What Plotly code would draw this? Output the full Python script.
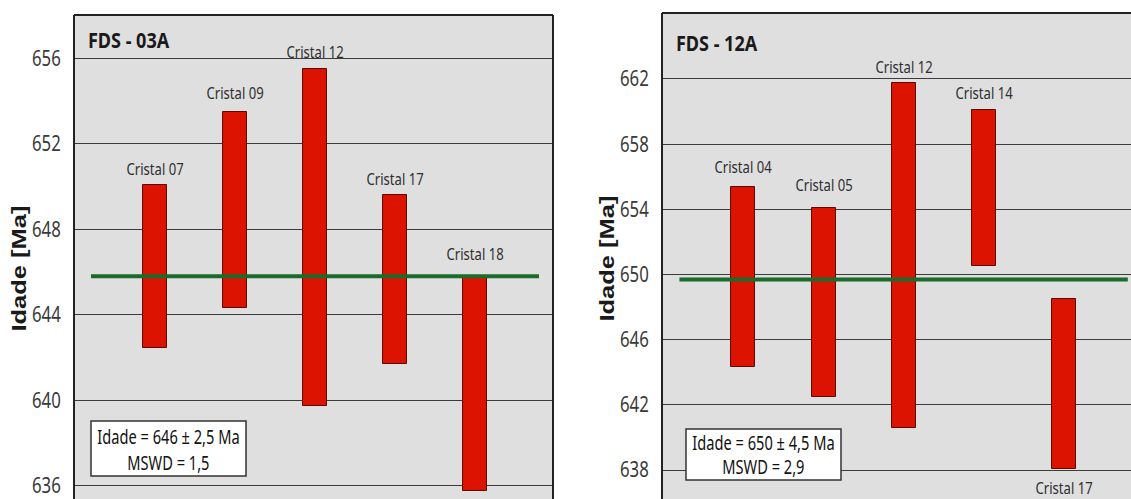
import plotly.graph_objects as go

# ---------------- data ----------------
left_title = "FDS - 03A"
left_labels = ["Cristal 07", "Cristal 09", "Cristal 12", "Cristal 17", "Cristal 18"]
left_top = [650.05, 653.5, 655.5, 649.6, 645.8]
left_bottom = [642.45, 644.3, 639.75, 641.7, 635.75]
left_mean = 645.8
left_ticks = [636, 640, 644, 648, 652, 656]
left_box = ["Idade = 646 ± 2,5 Ma", "MSWD = 1,5"]

right_title = "FDS - 12A"
right_labels = ["Cristal 04", "Cristal 05", "Cristal 12", "Cristal 14", "Cristal 17"]
right_top = [655.4, 654.1, 661.75, 660.1, 648.5]
right_bottom = [644.35, 642.5, 640.6, 650.5, 638.05]
right_mean = 649.7
right_ticks = [638, 642, 646, 650, 654, 658, 662]
right_box = ["Idade = 650 ± 4,5 Ma", "MSWD = 2,9"]

y_title = "Idade [Ma]"

# ---------------- style ----------------
W, H = 1131, 499
NARROW = "Noto Sans"
BOLD = "Liberation Sans, Arial, sans-serif"
RED = "#dc1300"
EDGE = "#5a0a00"
GREEN = "#1b6b2a"
BG = "#dfdfdf"
GRID = "#3c3c3c"
TXT = "#2e2e2e"

def px(x):
    return x / W

def py(y):
    return 1 - y / H

fig = go.Figure()

panels = [
    dict(ax="x", ay="y", top=left_top, bot=left_bottom, mean=left_mean,
         labels=left_labels, offs=[17, 19, 17, 17, 23]),
    dict(ax="x2", ay="y2", top=right_top, bot=right_bottom, mean=right_mean,
         labels=right_labels, offs=[20, 23, 17, 17, -18]),
]

annotations = []
for p in panels:
    xs = list(range(1, len(p["top"]) + 1))
    fig.add_trace(go.Bar(
        x=xs, y=[t - b for t, b in zip(p["top"], p["bot"])], base=p["bot"],
        width=0.3, marker=dict(color=RED, line=dict(color=EDGE, width=1)),
        xaxis=p["ax"], yaxis=p["ay"], showlegend=False, hoverinfo="skip"))
    fig.add_trace(go.Scatter(
        x=[0.2, 5.8], y=[p["mean"], p["mean"]], mode="lines",
        line=dict(color=GREEN, width=4), xaxis=p["ax"], yaxis=p["ay"],
        showlegend=False, hoverinfo="skip"))
    for i, (lab, off) in enumerate(zip(p["labels"], p["offs"])):
        yv = p["top"][i] if off > 0 else p["bot"][i]
        annotations.append(dict(
            x=xs[i], y=yv, xref=p["ax"], yref=p["ay"], text=lab,
            showarrow=False, yanchor="middle", yshift=off,
            font=dict(family=NARROW, size=17, color=TXT)))

# panel titles
annotations.append(dict(x=px(129), y=py(39), xref="paper", yref="paper", text="<b>" + left_title + "</b>",
                        showarrow=False, xanchor="center", yanchor="middle",
                        font=dict(family=NARROW, size=22, color="#1a1a1a")))
annotations.append(dict(x=px(717), y=py(42), xref="paper", yref="paper", text="<b>" + right_title + "</b>",
                        showarrow=False, xanchor="center", yanchor="middle",
                        font=dict(family=NARROW, size=22, color="#1a1a1a")))

# y-axis titles
for xc, yc in [(19, 269), (607, 259)]:
    annotations.append(dict(x=px(xc), y=py(yc), xref="paper", yref="paper", text="<b>" + y_title + "</b>",
                            showarrow=False, textangle=-90, xanchor="center", yanchor="middle",
                            font=dict(family=BOLD, size=20, color="#1a1a1a")))

# info boxes
shapes = []
for (x0, y0, x1, y1, lines, c1, c2) in [
    (91, 421, 246, 476, left_box, 437, 463),
    (686, 429, 841, 480, right_box, 443, 467),
]:
    shapes.append(dict(type="rect", xref="paper", yref="paper",
                       x0=px(x0), x1=px(x1), y0=py(y1), y1=py(y0),
                       fillcolor="white", line=dict(color="#333333", width=1.5)))
    for txt, yc in zip(lines, (c1, c2)):
        annotations.append(dict(x=px((x0 + x1) / 2), y=py(yc), xref="paper", yref="paper",
                                text=txt, showarrow=False, xanchor="center", yanchor="middle",
                                font=dict(family=NARROW, size=19, color="#111111")))

# panel borders
L = (74, 553, 15)
R = (662, 1131, 13)
shapes += [
    dict(type="line", xref="paper", yref="paper", x0=px(L[0]), x1=px(L[0]), y0=0, y1=py(L[2]), line=dict(color="#222", width=2)),
    dict(type="line", xref="paper", yref="paper", x0=px(L[0]), x1=px(L[1]), y0=py(L[2]), y1=py(L[2]), line=dict(color="#222", width=2)),
    dict(type="line", xref="paper", yref="paper", x0=px(L[1]), x1=px(L[1]), y0=0, y1=py(L[2]), line=dict(color="#222", width=2)),
    dict(type="line", xref="paper", yref="paper", x0=px(R[0]), x1=px(R[0]), y0=0, y1=py(R[2]), line=dict(color="#222", width=2)),
    dict(type="line", xref="paper", yref="paper", x0=px(R[0]), x1=1, y0=py(R[2]), y1=py(R[2]), line=dict(color="#222", width=2)),
]

yax_common = dict(showgrid=True, gridcolor=GRID, gridwidth=1.2, zeroline=False,
                  ticks="outside", ticklen=8, tickcolor="rgba(0,0,0,0)",
                  ticklabeloverflow="allow",
                  tickfont=dict(family=NARROW, size=21, color="#3a3a3a"), showline=False)
xax_common = dict(showgrid=False, zeroline=False, showticklabels=False, showline=False, ticks="")

fig.update_layout(
    width=W, height=H, margin=dict(l=0, r=0, t=0, b=0),
    paper_bgcolor="white", plot_bgcolor=BG,
    xaxis=dict(domain=[px(L[0]), px(L[1])], range=[-0.0125, 5.975], **xax_common),
    yaxis=dict(domain=[0, py(L[2])], range=[635.39, 658.02], tickvals=left_ticks, **yax_common),
    xaxis2=dict(domain=[px(R[0]), 1.0], range=[-0.0175, 5.84], anchor="y2", **xax_common),
    yaxis2=dict(domain=[0, py(R[2])], range=[636.22, 666.05], tickvals=right_ticks, anchor="x2", **yax_common),
    annotations=annotations, shapes=shapes, bargap=0,
)

# condense the narrow-font texts horizontally (the reference uses condensed faces)
post = """
document.body.style.margin = '0';
document.body.style.overflow = 'hidden';
var factors = {'17px': 0.77, '19px': 0.77, '21px': 0.80, '22px': 0.82};
document.querySelectorAll('text').forEach(function (t) {
  var fam = t.style.fontFamily || '';
  var fs = t.style.fontSize || '';
  var w = t.getComputedTextLength();
  if (!w) return;
  if (fam.indexOf('Noto Sans') >= 0 && factors[fs]) {
    t.setAttribute('textLength', (w * factors[fs]).toFixed(2));
    t.setAttribute('lengthAdjust', 'spacingAndGlyphs');
  } else if (fam.indexOf('Liberation') >= 0 && fs === '20px') {
    t.setAttribute('textLength', '126');
    t.setAttribute('lengthAdjust', 'spacingAndGlyphs');
  }
});
"""
fig.write_html("out.html", post_script=post, config={"displayModeBar": False})
